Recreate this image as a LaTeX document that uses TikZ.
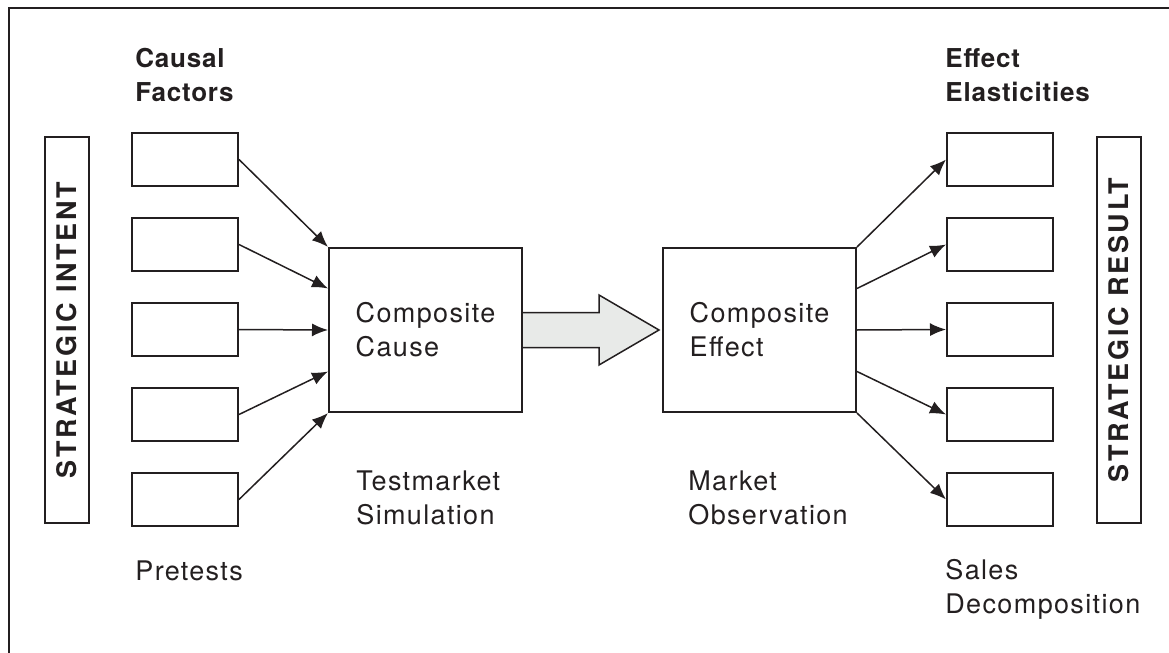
\documentclass[tikz,border=0pt]{standalone}
\usepackage{fontspec}
\setmainfont{TeX Gyre Heros}
\newfontfamily\bodyfont{TeX Gyre Heros}[LetterSpace=5]
\newfontfamily\headfont{TeX Gyre Heros}[LetterSpace=3]
\newfontfamily\spinefont{TeX Gyre Heros}[LetterSpace=10]
\usetikzlibrary{arrows.meta,positioning,calc}
\definecolor{ink}{RGB}{35,31,32}
\definecolor{arrowfill}{RGB}{232,234,232}

\begin{document}
\begin{tikzpicture}[x=0.5pt,y=-0.5pt,>={Latex[length=8pt,width=6.5pt]},
 factor/.style={draw=ink,line width=1pt,minimum width=53pt,minimum height=26.5pt,inner sep=0pt},
 core/.style={draw=ink,line width=1pt,minimum width=96.5pt,minimum height=82pt,align=left,text=ink,font=\bodyfont\fontsize{13.5}{17}\selectfont},
 spine/.style={draw=ink,line width=1pt,rotate=90,minimum width=193pt,minimum height=22pt,inner sep=0pt,text=ink,font=\spinefont\bfseries\fontsize{13.5}{16}\selectfont},
 caption/.style={align=left,anchor=base west,inner sep=0pt,text=ink,font=\bodyfont\fontsize{13.5}{17}\selectfont},
 head/.style={caption,font=\headfont\bfseries\fontsize{13}{17}\selectfont},
 link/.style={->,draw=ink,line width=0.75pt},
 bigarrow/.style={draw=ink,line width=0.75pt,fill=arrowfill,line join=miter}]
\useasboundingbox (0,0) rectangle (1169,653);
\draw[ink,line width=1pt] (9,8) rectangle (1180,665);
% side bars
\node[spine] (intent) at (67,330) {STRATEGIC INTENT};
\node[spine] (result) at (1119,330) {STRATEGIC RESULT};
% causal factors
\node[factor] (lf3) at (185,329.5) {};
\node[factor,above=15pt of lf3] (lf2) {};
\node[factor,above=15pt of lf2] (lf1) {};
\node[factor,below=15pt of lf3] (lf4) {};
\node[factor,below=15pt of lf4] (lf5) {};
% effect elasticities
\node[factor] (rf3) at (1000,329.5) {};
\node[factor,above=15pt of rf3] (rf2) {};
\node[factor,above=15pt of rf2] (rf1) {};
\node[factor,below=15pt of rf3] (rf4) {};
\node[factor,below=15pt of rf4] (rf5) {};
% composites
\node[core] (cause) at (425.5,330) {Composite\\Cause};
\node[core] (effect) at (759.5,330) {Composite\\Effect};
% captions (base = last line)
\node[head] (causal) at (135,101) {Causal\\Factors};
\node[head] (elastic) at (945,101) {Effect\\Elasticities};
\node[caption] (pretest) at (135,580) {Pretests};
\node[caption] (testmkt) at (356,524) {Testmarket\\Simulation};
\node[caption] (mktobs) at (688,524) {Market\\Observation};
\node[caption] (salesdec) at (945,613) {Sales\\Decomposition};
% arrows in
\draw[link] (lf1.east)--(cause.north west);
\draw[link] (lf2.east)--($(cause.north west)!0.25!(cause.south west)$);
\draw[link] (lf3.east)--(cause.west);
\draw[link] (lf4.east)--($(cause.north west)!0.75!(cause.south west)$);
\draw[link] (lf5.east)--(cause.south west);
% arrows out
\draw[link] (effect.north east)--(rf1.west);
\draw[link] ($(effect.north east)!0.25!(effect.south east)$)--(rf2.west);
\draw[link] (effect.east)--(rf3.west);
\draw[link] ($(effect.north east)!0.75!(effect.south east)$)--(rf4.west);
\draw[link] (effect.south east)--(rf5.west);
% block arrow
\draw[bigarrow] ($(cause.east)+(0,-17.5)$) -- ++(76,0) -- ++(0,-17.5) -- ($(effect.west)+(-3,0)$)
 -- ($(cause.east)+(76,35)$) -- ++(0,-17.5) -- ($(cause.east)+(0,17.5)$);
\end{tikzpicture}
\end{document}
